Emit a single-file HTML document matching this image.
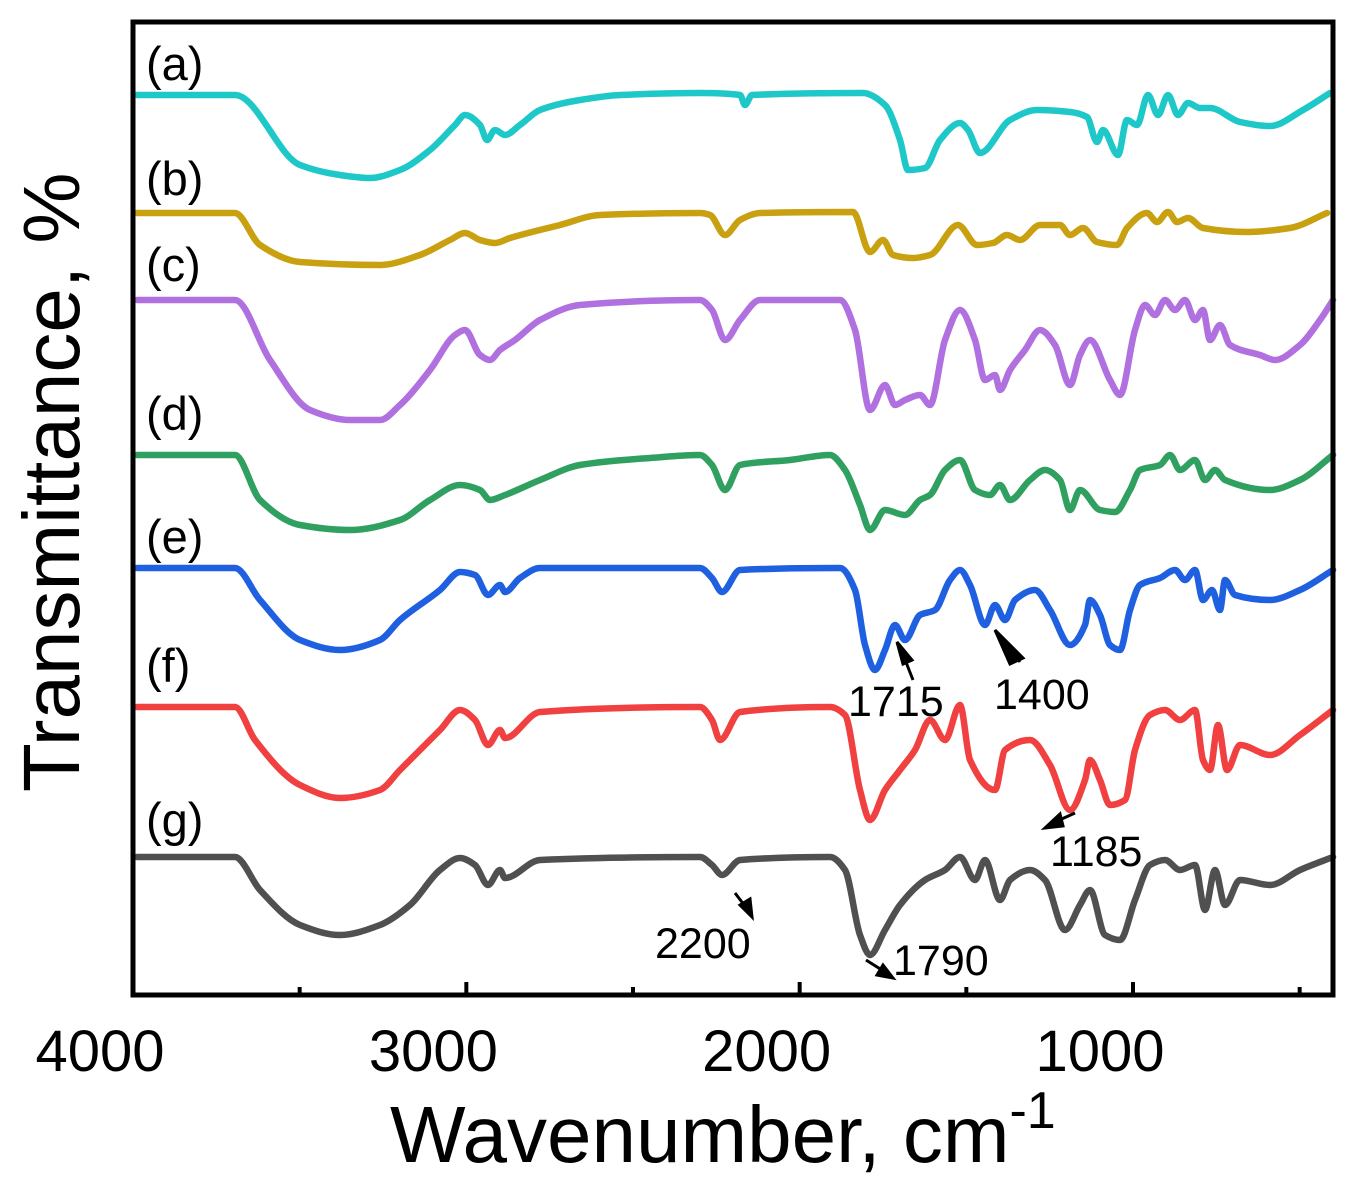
<!DOCTYPE html>
<html><head><meta charset="utf-8">
<style>
html,body{margin:0;padding:0;background:#fff;}
svg{display:block;font-family:"Liberation Sans",sans-serif;}
</style></head>
<body>
<svg id="chart" width="1356" height="1190" viewBox="0 0 1356 1190" xmlns="http://www.w3.org/2000/svg">
<rect x="0" y="0" width="1356" height="1190" fill="#fff"/>
<g id="series"></g>
<rect x="133" y="22" width="1200" height="973" fill="none" stroke="#000" stroke-width="5"/>
<g id="ticks"></g>
<text transform="translate(79,792) rotate(-90)" text-anchor="start" font-size="80">Transmittance, %</text>
<text x="390" y="1162" text-anchor="start" font-size="80">Wavenumber, cm<tspan dy="-34" font-size="52">-1</tspan></text>
<g font-size="47" fill="#000">
<text x="146" y="80">(a)</text>
<text x="146" y="195">(b)</text>
<text x="146" y="281">(c)</text>
<text x="146" y="430">(d)</text>
<text x="146" y="553">(e)</text>
<text x="146" y="682">(f)</text>
<text x="146" y="836">(g)</text>
</g>
<g font-size="43" fill="#000">
<text x="848" y="716">1715</text>
<text x="994" y="709">1400</text>
<text x="1050" y="866">1185</text>
<text x="655" y="958">2200</text>
<text x="893" y="975">1790</text>
</g>
<g fill="#000" stroke="#000" stroke-width="3">
<g><line x1="913" y1="680" x2="902" y2="652"/><polygon points="897,642 912,660 903,664"/></g>
<g><line x1="1020" y1="662" x2="1003" y2="640"/><polygon points="995,630 1023,658 1010,664"/></g>
<g><line x1="1075" y1="813" x2="1055" y2="822"/><polygon points="1045,828 1060,814 1063,826"/></g>
<g><line x1="735" y1="893" x2="748" y2="910"/><polygon points="752,917 740,905 750,899"/></g>
<g><line x1="866" y1="960" x2="885" y2="972"/><polygon points="893,978 877,975 883,965"/></g>
</g>
</svg>
<script>
const xTicks = [4000, 3000, 2000, 1000];
const xTickLabels = ["4000", "3000", "2000", "1000"];
const xMinorTicks = [3500, 2500, 1500, 500];
const seriesNames = ["a","b","c","d","e","f","g"];
const seriesColors = ["#1ec8c8","#c8a010","#b070e0","#30a060","#1e60e0","#f04040","#505050"];

const wnA = [3988,3694,3499,3379,3289,3199,3109,3034,3004,2959,2938,2914,2884,2839,2779,2659,2539,2299,2179,2164,2143,1810,1744,1699,1675,1624,1579,1519,1495,1459,1369,1288,1189,1138,1108,1090,1045,1018,988,955,925,895,865,835,799,769,679,589,490,409];
const tA = [905,905,835,825,822,830,850,875,885,875,860,870,865,875,890,900,905,907,905,895,905,907,895,860,830,832,860,877,870,847,880,890,888,883,858,870,845,880,875,905,885,905,885,897,892,892,878,874,890,907];
const wnB = [3988,3694,3619,3499,3259,3139,3049,3004,2959,2914,2869,2719,2599,2299,2269,2224,2179,2119,1840,1789,1750,1720,1660,1609,1525,1468,1420,1378,1339,1279,1219,1189,1150,1108,1048,1018,958,928,895,868,835,790,658,529,418];
const tB = [787,787,755,738,735,745,760,767,760,757,762,775,785,787,785,765,780,787,788,748,760,745,742,745,775,755,757,765,760,775,775,765,772,758,755,772,787,778,788,778,782,772,768,772,787];
const wnC = [3988,3694,3589,3469,3349,3259,3199,3109,3034,3004,2959,2929,2899,2854,2779,2659,2299,2263,2224,2179,2119,1879,1834,1789,1744,1714,1684,1639,1609,1564,1519,1474,1444,1414,1399,1369,1324,1279,1234,1189,1159,1129,1069,1039,994,964,934,904,874,844,814,790,769,739,709,619,574,499,439,400];
const tC = [700,700,640,590,580,580,595,630,665,670,645,640,650,660,680,695,700,690,660,680,700,700,670,590,615,595,600,605,595,660,690,660,620,625,610,630,650,670,655,615,645,660,620,605,670,695,685,700,690,700,680,690,660,675,655,645,640,655,680,700];
const wnD = [3988,3694,3619,3499,3349,3199,3109,3019,2959,2929,2884,2779,2659,2449,2299,2263,2224,2179,2029,1909,1864,1819,1789,1744,1684,1639,1609,1564,1519,1474,1429,1399,1369,1309,1264,1219,1189,1159,1099,1054,1009,979,919,889,859,814,784,754,724,589,499,400];
const tD = [545,545,500,475,470,480,500,515,510,500,505,520,535,542,545,535,510,535,540,545,530,495,470,490,485,500,505,530,540,510,505,515,500,520,530,520,490,510,490,488,510,530,535,545,530,540,520,530,520,510,520,545];
const wnE = [3988,3694,3619,3499,3379,3259,3199,3079,3019,2974,2935,2899,2884,2839,2779,2299,2263,2233,2179,1879,1834,1804,1774,1744,1714,1684,1639,1594,1549,1519,1489,1444,1414,1384,1354,1294,1249,1189,1144,1129,1099,1069,1039,1009,979,919,874,844,814,790,763,739,724,694,589,499,400];
const tE = [432,432,400,360,350,360,380,410,428,425,405,415,408,422,432,432,422,408,430,432,410,355,330,350,375,360,385,390,420,430,415,375,395,380,400,410,390,355,375,400,385,355,350,390,415,422,430,420,430,400,410,390,420,405,400,410,430];
const wnF = [3988,3694,3634,3499,3379,3259,3199,3079,3019,2974,2935,2899,2884,2779,2299,2263,2239,2179,1909,1864,1819,1789,1744,1699,1654,1609,1564,1519,1489,1414,1384,1309,1249,1189,1144,1129,1099,1069,1024,994,949,904,859,814,790,769,745,718,679,589,499,400];
const tF = [293,293,260,215,202,210,230,270,290,280,255,270,262,288,293,280,260,288,293,285,210,180,210,230,250,280,260,295,240,210,250,260,235,190,220,240,220,195,200,250,285,290,280,290,240,230,275,230,255,245,265,290];
const wnG = [3988,3694,3619,3499,3379,3259,3169,3079,3019,2974,2935,2899,2884,2779,2299,2263,2233,2179,1909,1864,1819,1789,1744,1699,1624,1564,1519,1474,1444,1399,1369,1309,1264,1204,1159,1129,1084,1039,994,949,904,859,814,784,754,724,679,589,499,400];
const tG = [143,143,110,75,65,75,95,130,142,135,115,130,122,140,143,135,125,140,143,130,65,45,70,95,120,130,143,120,140,100,120,130,120,70,95,110,65,60,100,135,140,130,135,90,130,95,120,115,130,143];

const allWn = [wnA,wnB,wnC,wnD,wnE,wnF,wnG];
const allT = [tA,tB,tC,tD,tE,tF,tG];

const NS = "http://www.w3.org/2000/svg";
function xScale(wn){ return 133 + (4000 - wn) * 1200 / 3600; }
function yScale(v){ return 1000 - v; }

// monotone cubic (Fritsch–Carlson) in x, like d3.curveMonotoneX
function monotonePath(pts){
  const n = pts.length;
  const dx = [], m = [], t = new Array(n);
  for (let i = 0; i < n - 1; i++) {
    dx.push(pts[i+1][0] - pts[i][0]);
    m.push((pts[i+1][1] - pts[i][1]) / (dx[i] || 1e-6));
  }
  t[0] = m[0]; t[n-1] = m[n-2];
  for (let i = 1; i < n - 1; i++) {
    if (m[i-1] * m[i] <= 0) t[i] = 0;
    else {
      const w1 = 2*dx[i] + dx[i-1], w2 = dx[i] + 2*dx[i-1];
      t[i] = (w1 + w2) / (w1 / m[i-1] + w2 / m[i]);
    }
  }
  let d = "M" + pts[0][0].toFixed(1) + "," + pts[0][1].toFixed(1);
  for (let i = 0; i < n - 1; i++) {
    const h = dx[i] / 3;
    d += "C" + (pts[i][0] + h).toFixed(1) + "," + (pts[i][1] + h * t[i]).toFixed(1) + " " +
         (pts[i+1][0] - h).toFixed(1) + "," + (pts[i+1][1] - h * t[i+1]).toFixed(1) + " " +
         pts[i+1][0].toFixed(1) + "," + pts[i+1][1].toFixed(1);
  }
  return d;
}

const sg = document.getElementById("series");
for (let s = 0; s < allWn.length; s++) {
  const wn = allWn[s], tv = allT[s];
  const pts = [];
  for (let i = 0; i < wn.length; i++) pts.push([xScale(wn[i]), yScale(tv[i])]);
  const p = document.createElementNS(NS, "path");
  p.setAttribute("d", monotonePath(pts));
  p.setAttribute("fill", "none");
  p.setAttribute("stroke", seriesColors[s]);
  p.setAttribute("stroke-width", "6.5");
  p.setAttribute("stroke-linejoin", "round");
  p.setAttribute("stroke-linecap", "round");
  
  
  sg.appendChild(p);
}

const tg = document.getElementById("ticks");
for (let i = 0; i < xTicks.length; i++) {
  const x = xScale(xTicks[i]);
  const l = document.createElementNS(NS, "line");
  l.setAttribute("x1", x); l.setAttribute("x2", x);
  l.setAttribute("y1", 995); l.setAttribute("y2", 982);
  l.setAttribute("stroke", "#000"); l.setAttribute("stroke-width", "4");
  
  
  tg.appendChild(l);
  const t = document.createElementNS(NS, "text");
  t.setAttribute("x", x - 33); t.setAttribute("y", 1071);
  t.setAttribute("text-anchor", "middle");
  t.setAttribute("font-size", "58");
  t.textContent = xTickLabels[i];
  
  
  tg.appendChild(t);
}
for (let i = 0; i < xMinorTicks.length; i++) {
  const x = xScale(xMinorTicks[i]);
  const l = document.createElementNS(NS, "line");
  l.setAttribute("x1", x); l.setAttribute("x2", x);
  l.setAttribute("y1", 995); l.setAttribute("y2", 987);
  l.setAttribute("stroke", "#000"); l.setAttribute("stroke-width", "4");
  
  
  tg.appendChild(l);
}
</script>
</body></html>
